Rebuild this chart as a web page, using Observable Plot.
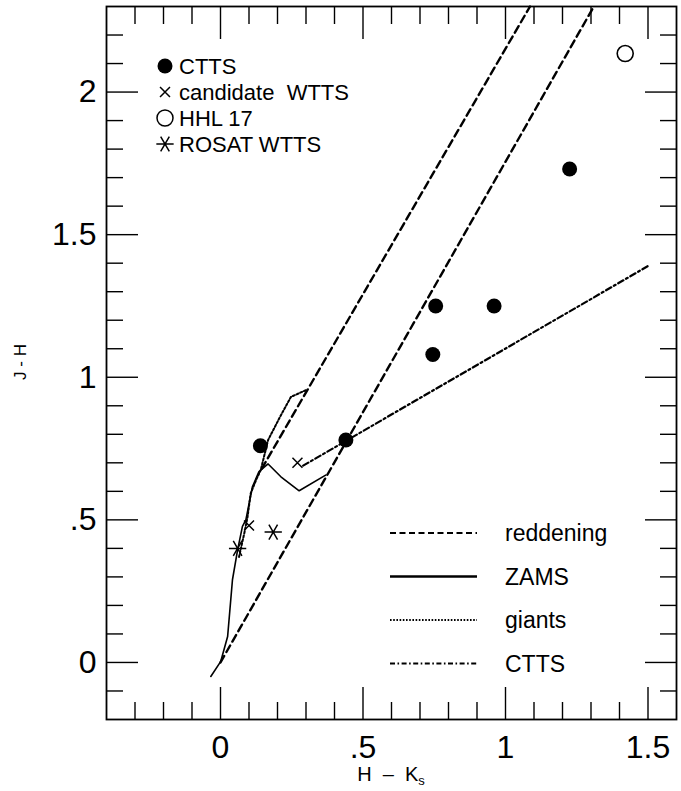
<!DOCTYPE html>
<html>
<head>
<meta charset="utf-8">
<script src="https://cdn.jsdelivr.net/npm/d3@7"></script>
<script src="https://cdn.jsdelivr.net/npm/@observablehq/plot@0.6"></script>
<style>
  body { margin: 0; background: #fff; }
  svg { display: block; }
</style>
</head>
<body>
<div id="chart"></div>
<script>
// Near-infrared two-colour diagram: J-H against H-Ks

// Classical T Tauri stars
const cttsHK = [0.14, 0.44, 0.745, 0.755, 0.96, 1.225];
const cttsJH = [0.76, 0.78, 1.08, 1.25, 1.25, 1.73];
// Candidate weak-line T Tauri stars
const wttsHK = [0.10, 0.27];
const wttsJH = [0.48, 0.70];
// HHL 17
const hhlHK = [1.42];
const hhlJH = [2.135];
// ROSAT weak-line T Tauri stars
const rosatHK = [0.06, 0.185];
const rosatJH = [0.40, 0.457];

// Main-sequence (ZAMS) locus
const zamsHK = [-0.034, 0.001, 0.025, 0.042, 0.06, 0.077, 0.089, 0.112, 0.135, 0.167, 0.212, 0.276, 0.369];
const zamsJH = [-0.049, 0.004, 0.091, 0.29, 0.395, 0.477, 0.50, 0.616, 0.669, 0.696, 0.651, 0.602, 0.657];
// Giant branch
const giantsHK = [0.065, 0.085, 0.095, 0.106, 0.125, 0.141, 0.167, 0.212, 0.247, 0.30];
const giantsJH = [0.37, 0.46, 0.511, 0.593, 0.64, 0.674, 0.78, 0.867, 0.931, 0.955];
// Reddening bands
const reddenLowHK = [0.0, 1.31];
const reddenLowJH = [0.0, 2.3];
const reddenHighHK = [0.145, 1.086];
const reddenHighJH = [0.68, 2.3];
// CTTS locus
const cttsLocusHK = [0.29, 1.5];
const cttsLocusJH = [0.69, 1.39];

// Axis ticks
const majorX = [0, 0.5, 1, 1.5];
const majorY = [0, 0.5, 1, 1.5, 2];
const minorX = d3.range(-3, 16).map(i => i / 10).filter(v => !majorX.includes(v));
const minorY = d3.range(-1, 23).map(i => i / 10).filter(v => !majorY.includes(v));

// Legend entries
const symbolLegend = ["CTTS", "candidate  WTTS", "HHL 17", "ROSAT WTTS"];
const lineLegend = ["reddening", "ZAMS", "giants", "CTTS"];

const pts = (xs, ys) => xs.map((x, i) => ({x, y: ys[i]}));
const fmt = d => d === 0 ? "0" : String(d).replace(/^0\./, ".");
const FONT = "'Liberation Sans', Arial, Helvetica, sans-serif";

const dashes = {
  reddening: "7.5,4.5",
  zams: null,
  giants: "2,2",
  ctts: "6,3,2,3"
};

const lineMark = (xs, ys, dash, w) =>
  Plot.line(pts(xs, ys), {x: "x", y: "y", stroke: "black", strokeWidth: w, strokeDasharray: dash, strokeLinejoin: "round"});

const axisCommon = {label: null, stroke: "black", strokeWidth: 1.4};

const plot = Plot.plot({
  width: 681,
  height: 791,
  marginLeft: 106,
  marginRight: 5,
  marginTop: 6,
  marginBottom: 72,
  style: {fontFamily: FONT, background: "white", color: "black", overflow: "visible"},
  x: {domain: [-0.4, 1.6]},
  y: {domain: [-0.2, 2.3]},
  marks: [
    // inward tick marks on all four sides
    Plot.axisX(minorX, {...axisCommon, anchor: "bottom", tickSize: -17, fill: "none"}),
    Plot.axisX(majorX, {...axisCommon, anchor: "bottom", tickSize: -32, fill: "none"}),
    Plot.axisX(minorX, {...axisCommon, anchor: "top", tickSize: -17, fill: "none"}),
    Plot.axisX(majorX, {...axisCommon, anchor: "top", tickSize: -32, fill: "none"}),
    Plot.axisY(minorY, {...axisCommon, anchor: "left", tickSize: -17, fill: "none"}),
    Plot.axisY(majorY, {...axisCommon, anchor: "left", tickSize: -32, fill: "none"}),
    Plot.axisY(minorY, {...axisCommon, anchor: "right", tickSize: -17, fill: "none"}),
    Plot.axisY(majorY, {...axisCommon, anchor: "right", tickSize: -32, fill: "none"}),
    // tick labels
    Plot.axisX(majorX, {label: null, anchor: "bottom", tickSize: 0, tickPadding: 16, fontSize: 32, tickFormat: fmt}),
    Plot.axisY(majorY, {label: null, anchor: "left", tickSize: 0, tickPadding: 10, fontSize: 32, tickFormat: fmt}),
    Plot.frame({stroke: "black", strokeWidth: 1.8}),

    // loci
    lineMark(reddenLowHK, reddenLowJH, dashes.reddening, 2.4),
    lineMark(reddenHighHK, reddenHighJH, dashes.reddening, 2.4),
    lineMark(zamsHK, zamsJH, dashes.zams, 1.6),
    lineMark(giantsHK, giantsJH, dashes.giants, 2),
    lineMark(cttsLocusHK, cttsLocusJH, dashes.ctts, 2.2),

    // stars
    Plot.dot(pts(cttsHK, cttsJH), {x: "x", y: "y", r: 7.5, fill: "black", stroke: "none"}),
    Plot.dot(pts(wttsHK, wttsJH), {x: "x", y: "y", symbol: "times", r: 4.6, stroke: "black", strokeWidth: 1.5}),
    Plot.dot(pts(hhlHK, hhlJH), {x: "x", y: "y", r: 8, fill: "white", stroke: "black", strokeWidth: 1.6}),
    Plot.dot(pts(rosatHK, rosatJH), {x: "x", y: "y", symbol: "asterisk", r: 8.2, rotate: 90, stroke: "black", strokeWidth: 1.5})
  ]
});

document.getElementById("chart").appendChild(plot);

const svg = d3.select(plot);

// axis titles
const xt = svg.append("text")
  .attr("font-family", FONT).attr("font-size", 20).attr("fill", "black")
  .attr("x", 391).attr("y", 781).attr("text-anchor", "middle")
  .style("white-space", "pre");
xt.append("tspan").text("H  \u2013  K");
xt.append("tspan").attr("font-size", 13).attr("dy", 4).text("s");

svg.append("text")
  .attr("font-family", FONT).attr("font-size", 17).attr("fill", "black")
  .attr("text-anchor", "middle")
  .attr("transform", "translate(26,362) rotate(-90)")
  .text("J - H");

// symbol legend (upper left)
const symLeg = svg.append("g").attr("font-family", FONT).attr("font-size", 22)
  .attr("text-anchor", "start").attr("fill", "black");
const symDefs = [
  {type: d3.symbolCircle, r: 7.5, fill: "black", stroke: "none"},
  {type: d3.symbolTimes, r: 4.6, fill: "none", stroke: "black"},
  {type: d3.symbolCircle, r: 8, fill: "white", stroke: "black"},
  {type: d3.symbolAsterisk, r: 8.2, fill: "none", stroke: "black", rotate: 90}
];
symbolLegend.forEach((name, i) => {
  const y = 66 + i * 26;
  const s = symDefs[i];
  symLeg.append("path")
    .attr("d", d3.symbol(s.type, Math.PI * s.r * s.r)())
    .attr("transform", `translate(165,${y})` + (s.rotate ? ` rotate(${s.rotate})` : ""))
    .attr("fill", s.fill).attr("stroke", s.stroke).attr("stroke-width", 1.5);
  symLeg.append("text")
    .attr("x", 179).attr("y", y).attr("dy", "0.35em")
    .attr("text-anchor", "start")
    .style("white-space", "pre")
    .text(name);
});

// line-style legend (lower right)
const lineLeg = svg.append("g").attr("font-family", FONT).attr("font-size", 23)
  .attr("text-anchor", "start").attr("fill", "black");
const legStyles = [
  {dash: "6,3.5", w: 2},
  {dash: null, w: 2.4},
  {dash: "1.6,1.6", w: 1.8},
  {dash: "5,2.5,1.6,2.5", w: 2}
];
lineLegend.forEach((name, i) => {
  const y = 533 + i * 43.5;
  const st = legStyles[i];
  lineLeg.append("line")
    .attr("x1", 390).attr("x2", 477).attr("y1", y).attr("y2", y)
    .attr("stroke", "black").attr("stroke-width", st.w)
    .attr("stroke-dasharray", st.dash);
  lineLeg.append("text")
    .attr("x", 505).attr("y", y).attr("dy", "0.35em")
    .attr("text-anchor", "start")
    .text(name);
});
</script>
</body>
</html>
